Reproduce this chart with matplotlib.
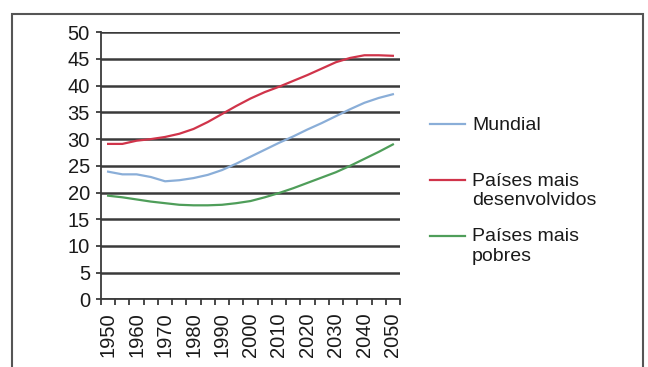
import matplotlib.pyplot as plt
from matplotlib.patches import Rectangle
from matplotlib.lines import Line2D

plt.rcParams['font.family'] = ['Liberation Sans', 'DejaVu Sans']

# dados (a cada 5 anos)
anos = list(range(1950, 2051, 5))
mundial = [23.9, 23.4, 23.4, 22.9, 22.1, 22.3, 22.7, 23.3, 24.2, 25.4,
           26.7, 28.0, 29.3, 30.5, 31.8, 33.0, 34.3, 35.6, 36.8, 37.7, 38.4]
desenvolvidos = [29.1, 29.1, 29.7, 30.0, 30.4, 31.0, 31.9, 33.2, 34.7, 36.2,
                 37.6, 38.8, 39.8, 40.9, 42.0, 43.2, 44.4, 45.2, 45.7, 45.7, 45.6]
pobres = [19.4, 19.1, 18.7, 18.3, 18.0, 17.7, 17.6, 17.6, 17.7, 18.0,
          18.4, 19.1, 19.9, 20.8, 21.8, 22.8, 23.8, 25.0, 26.3, 27.6, 29.0]

series = [
    ('Mundial', mundial, '#8aaed8'),
    ('Países mais\ndesenvolvidos', desenvolvidos, '#d0344a'),
    ('Países mais\npobres', pobres, '#4f9e5a'),
]

W, H = 648, 367
fig = plt.figure(figsize=(W / 100, H / 100), dpi=100)

# moldura externa
fig.patches.append(Rectangle((12 / W, -0.1), (643 - 12) / W, 1.1 - 14 / H,
                             transform=fig.transFigure, fill=False,
                             edgecolor='#555555', linewidth=1.5))

ax = fig.add_axes([101 / W, (H - 299.3) / H, 299 / W, 267 / H])
x = list(range(len(anos)))
for nome, vals, cor in series:
    ax.plot(x, vals, color=cor, linewidth=1.6, zorder=3)

ax.set_ylim(0, 50)
ax.set_xlim(-0.5, len(anos) - 0.5)
ax.set_yticks(range(0, 51, 5))
ax.yaxis.grid(True, color='#3a3a3a', linewidth=1.8)
ax.set_axisbelow(True)

ax.set_xticks(x[::2])
ax.set_xticklabels([str(a) for a in anos[::2]], rotation=90)
ax.set_xticks([i - 0.5 for i in range(len(anos) + 1)], minor=True)
ax.tick_params(axis='x', which='major', length=0, pad=9.5, labelsize=14.5,
               labelcolor='#1a1a1a')
ax.tick_params(axis='x', which='minor', length=4.5, width=1.3, color='#3a3a3a')
ax.tick_params(axis='y', length=3.5, width=1.3, color='#3a3a3a', labelsize=14.5,
               pad=4.5, labelcolor='#1a1a1a')

for s in ['top', 'right']:
    ax.spines[s].set_visible(False)
for s in ['left', 'bottom']:
    ax.spines[s].set_color('#3a3a3a')
    ax.spines[s].set_linewidth(1.3)

# legenda manual
leg_y = [124, 180, 236]
for (nome, vals, cor), yy in zip(series, leg_y):
    yf = 1 - yy / H
    fig.add_artist(Line2D([430 / W, 465 / W], [yf, yf], color=cor, linewidth=1.6,
                          transform=fig.transFigure))
    fig.text(472 / W, yf + 7.5 / H, nome, ha='left', va='top', fontsize=14,
             linespacing=1.22, color='#1a1a1a')

fig.savefig('out.png', dpi=100, facecolor='white')
